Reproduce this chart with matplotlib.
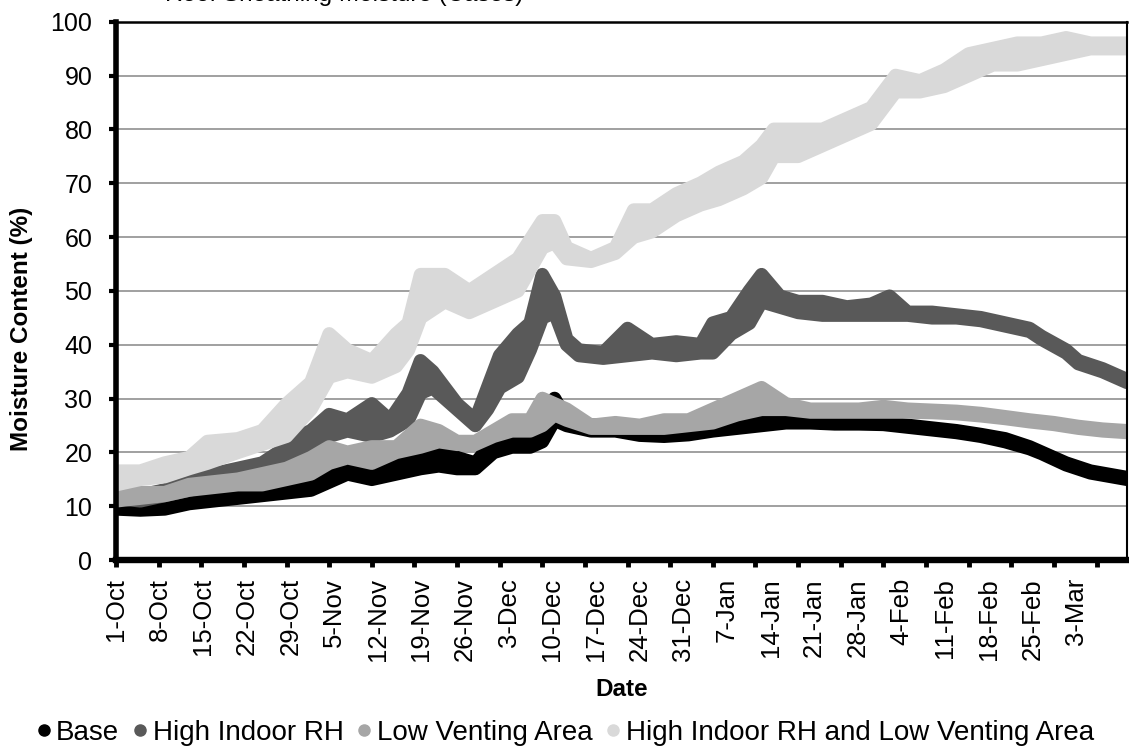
import numpy as np
import pandas as pd
import matplotlib
matplotlib.use("Agg")
import matplotlib.pyplot as plt
from matplotlib.lines import Line2D

plt.rcParams["font.family"] = ["Liberation Sans", "DejaVu Sans"]

# day offsets from 1-Oct, with upper / lower daily swing
base_days = [0, 4, 8, 12, 16, 20, 24, 28, 32, 34, 38, 42, 46, 50, 53, 56, 59, 62, 65, 68, 70, 72,
             74, 78, 82, 86, 90, 94, 98, 102, 106, 110, 114, 118, 122, 126, 130, 134, 138, 142,
             146, 150, 152, 156, 160, 166]
base_hi = [11, 10, 10, 11.5, 12, 13, 13, 13, 15, 19, 19, 19, 18, 20, 21, 19, 18, 22, 23, 22, 27, 30,
           26, 25, 25, 23.8, 23.5, 23.7, 24.5, 25.5, 27, 26.5, 26, 25.8, 25.8, 25.5, 25, 24.5, 24,
           23.3, 22.5, 21, 20, 18, 16.5, 15.3]
base_lo = [9.5, 9.3, 9.5, 10.5, 11, 11.5, 12, 12.5, 13, 14, 16, 15, 16, 17, 17.5, 17, 17, 20, 21, 21,
           22, 26, 25, 24, 24, 23.2, 23, 23.3, 24, 24.5, 25, 25.5, 25.5, 25.3, 25.3, 25.2, 24.7,
           24.2, 23.7, 23, 22, 20.7, 19.8, 17.7, 16.2, 15]

rh_days = [0, 4, 8, 12, 16, 20, 24, 28, 30, 32, 35, 38, 42, 45, 48, 50, 52, 54, 56, 59, 61, 63,
           66, 68, 70, 72, 74, 76, 80, 84, 88, 92, 96, 98, 101, 104, 106, 109, 112, 116, 120, 124,
           127, 130, 134, 138, 142, 146, 150, 152, 156, 158, 162, 166]
rh_hi = [13, 12, 13, 14.5, 16, 17, 18, 21, 23, 24, 27, 26, 29, 26, 31, 37, 35, 32, 29, 26, 32, 38,
         42, 44, 53, 49, 41, 39, 38.5, 43, 40, 40.5, 40, 44, 45, 50, 53, 49, 48, 48, 47, 47.5,
         49, 46, 46, 45.5, 45, 44, 43, 41.5, 39, 37, 35.5, 33.5]
rh_lo = [11.5, 11, 12, 13, 14, 15, 16, 17, 19, 20, 23, 24, 23, 24, 26, 31, 32, 30, 28, 25, 28, 32,
         34, 39, 45, 46, 40, 38, 37.5, 38, 38.5, 38, 38.5, 38.5, 42, 44, 48, 47, 46, 45.5, 45.5,
         45.5, 45.5, 45.5, 45, 45, 44.5, 43.5, 42.5, 41, 38.5, 36.5, 35, 33]

lv_days = [0, 4, 8, 12, 16, 20, 24, 28, 32, 35, 38, 42, 46, 50, 53, 56, 59, 62, 65, 68, 70, 72, 74,
           78, 82, 86, 90, 94, 98, 102, 106, 110, 114, 118, 122, 126, 130, 134, 138, 142, 146,
           150, 154, 158, 162, 166]
lv_hi = [13, 12.5, 12.5, 14, 14.5, 15, 16, 17, 19, 21, 20, 21, 21, 25, 24, 22, 22, 24, 26, 26, 30,
         29, 28, 25, 25.5, 25, 26, 26, 28, 30, 32, 29, 28, 28, 28, 28.5, 28, 27.8, 27.6, 27.2,
         26.6, 26, 25.5, 24.8, 24.3, 24]
lv_lo = [11, 11.5, 12, 13, 13.5, 14, 14, 15, 16, 18, 19, 18, 20, 21, 22, 21.5, 21.5, 23, 24, 24,
         25, 27, 26, 24.5, 24.5, 24.5, 24.5, 25, 25.5, 27, 28, 28, 27.5, 27.5, 27.5, 27.5, 27.5,
         27.4, 27.2, 26.8, 26.3, 25.7, 25.2, 24.5, 24, 23.7]

both_days = [0, 4, 8, 12, 15, 20, 24, 28, 32, 35, 38, 42, 46, 48, 50, 54, 58, 62, 66, 70, 72, 74,
             78, 82, 85, 88, 92, 96, 99, 103, 106, 108, 112, 116, 120, 124, 128, 132, 136, 140,
             144, 148, 152, 156, 160, 166]
both_hi = [16.5, 16.5, 18, 19, 22, 22.5, 24, 29, 33, 42, 39, 37, 42, 44, 53, 53, 50, 53, 56, 63, 63,
           58, 56, 58, 65, 65, 68, 70, 72, 74, 77, 80, 80, 80, 82, 84, 90, 89, 91, 94, 95, 96,
           96, 97, 96, 96]
both_lo = [14, 15, 15.5, 17, 18, 20, 21.5, 23, 28, 34, 35, 34, 36, 39, 45, 48, 46, 48, 50, 58, 59,
           56, 55.5, 57, 60, 61, 64, 66, 67, 69, 71, 75, 75, 77, 79, 81, 87, 87, 88, 90, 92, 92,
           93, 94, 95, 95]

series_names = ["Base", "High Indoor RH", "Low Venting Area",
                "High Indoor RH and Low Venting Area"]
series_colors = ["#000000", "#595959", "#a6a6a6", "#d9d9d9"]

# weekly ticks; the season runs through a leap-year February (4 weeks after 25-Feb is 3-Mar)
tick_days = list(range(0, 162, 7))
start = pd.Timestamp("2011-10-01")
tick_labels = [f"{(start + pd.Timedelta(days=d)).day}-{(start + pd.Timedelta(days=d)).strftime('%b')}"
               for d in tick_days]
tick_labels[-1] = ""  # last label is clipped away in the original

fig = plt.figure(figsize=(11.29, 7.51), dpi=100)
ax = fig.add_axes([116 / 1129, 1 - 560 / 751, 1011 / 1129, 538.3 / 751])

all_series = [(base_days, base_hi, base_lo), (rh_days, rh_hi, rh_lo),
              (lv_days, lv_hi, lv_lo), (both_days, both_hi, both_lo)]
for i, ((d, hi, lo), c) in enumerate(zip(all_series, series_colors)):
    ax.fill_between(d, lo, hi, color=c, lw=0, zorder=3 + i)
    for edge in (hi, lo):
        ax.plot(d, edge, color=c, lw=9.8, solid_joinstyle="round", solid_capstyle="round",
                zorder=3 + i)

ax.set_xlim(0, 166)
ax.set_ylim(0, 100)
ax.set_yticks(range(0, 101, 10))
ax.yaxis.grid(True, color="#868686", lw=1.1, zorder=1)
ax.set_axisbelow(True)

ax.xaxis.remove_overlapping_locs = False
ax.set_xticks(tick_days)
ax.set_xticklabels([])
ax.set_xticks([d * 1.0235 for d in tick_days], minor=True)
ax.set_xticklabels(tick_labels, minor=True, rotation=90, fontsize=18.5, va="top", ha="center")
ax.tick_params(axis="x", which="major", direction="out", length=5, width=3.5)
ax.tick_params(axis="x", which="minor", length=0, pad=13)
ax.tick_params(axis="y", direction="out", length=5, width=3, labelsize=18, pad=12)

for side, lw in [("left", 4.0), ("bottom", 4.6), ("top", 1.8), ("right", 1.5)]:
    ax.spines[side].set_linewidth(lw)
    ax.spines[side].set_color("black")
    ax.spines[side].set_zorder(10)

fig.text(22 / 1129, 1 - 329 / 751, "Moisture Content (%)", rotation=90, ha="center",
         va="center", fontsize=17.5, fontweight="bold")
fig.text(622 / 1129, 1 - 690 / 751, "Date", ha="center", va="center", fontsize=17.5,
         fontweight="bold")
fig.text(165 / 1129, 1 - 1 / 751, "Roof Sheathing Moisture (Cases)", ha="left",
         va="baseline", fontsize=17.5)

handles = [Line2D([], [], marker="o", ls="none", color=c, markersize=8) for c in series_colors]
fig.legend(handles, series_names, loc="center", bbox_to_anchor=(564 / 1129, 1 - 733 / 751),
           ncol=4, frameon=False, fontsize=20, handletextpad=0.1, columnspacing=0.4,
           handlelength=0.7, borderpad=0)

fig.savefig("out.png", dpi=100)
